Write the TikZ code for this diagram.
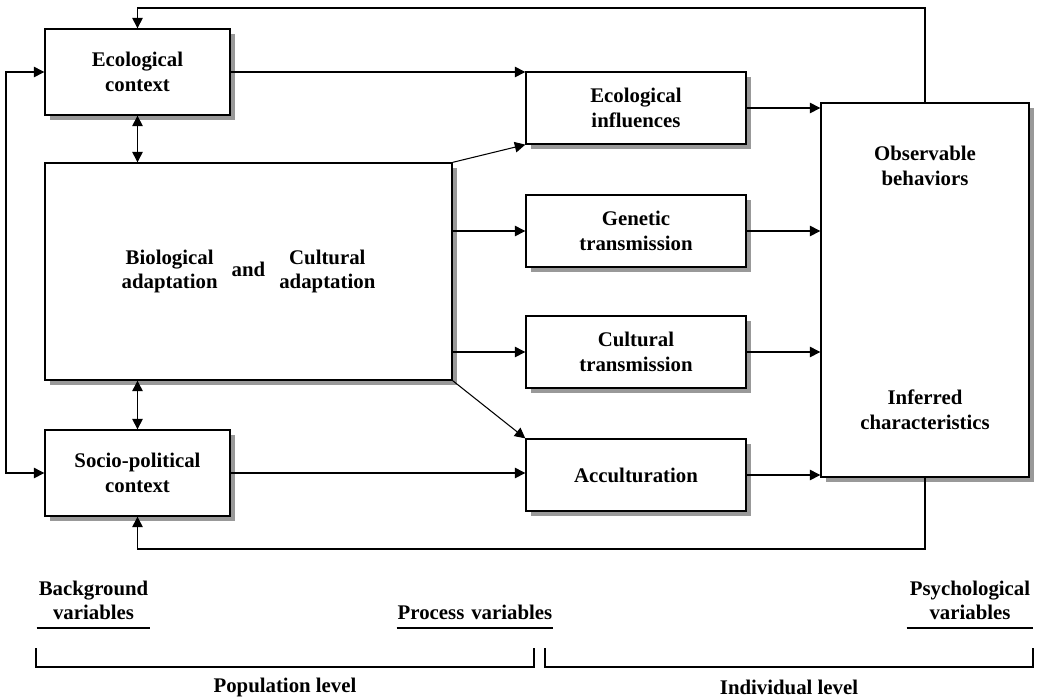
\documentclass[tikz,border=0pt]{standalone}
\usepackage{fontspec}
\setmainfont{Liberation Serif}
\usepackage{tikz}
\usetikzlibrary{positioning,shadows,arrows.meta}

\begin{document}
\begin{tikzpicture}[x=0.025cm, y=-0.025cm,
    every node/.style={font=\bfseries\fontsize{14.8}{17.5}\selectfont, align=center},
    box/.style={draw, line width=0.9pt, fill=white, inner sep=0pt,
      drop shadow={shadow xshift=0.13cm, shadow yshift=-0.13cm, fill=gray!80, opacity=1}},
    procbox/.style={box, minimum width=5.5cm, minimum height=1.8cm},
    ctxbox/.style={box, minimum width=4.625cm, minimum height=2.15cm},
    arr/.style={line width=0.75pt, -{Triangle[length=7.5pt,width=7.5pt]}},
    dblarr/.style={line width=0.75pt, {Triangle[length=7.5pt,width=7.5pt]}-{Triangle[length=7.5pt,width=7.5pt]}},
    plain/.style={line width=0.75pt},
    varlabel/.style={inner xsep=0pt, inner ysep=5.5pt}]
  \useasboundingbox (0,0) rectangle (1043,697);

  % background variables
  \node[ctxbox] (eco) at (137.5,72) {Ecological\\context};
  \node[box, minimum width=10.175cm, minimum height=5.425cm] (adapt) at (248.5,271.5)
    {\begin{tabular}{@{}c@{}}Biological\\adaptation\end{tabular}\hspace{10pt}and\hspace{10pt}%
     \begin{tabular}{@{}c@{}}Cultural\\adaptation\end{tabular}};
  \node[ctxbox] (socio) at (137.5,473) {Socio-political\\context};

  % process variables
  \node[procbox] (ecoinf) at (636,108) {Ecological\\influences};
  \node[procbox] (genetic) at (636,231) {Genetic\\transmission};
  \node[procbox] (cultural) at (636,352) {Cultural\\transmission};
  \node[procbox] (accult) at (636,475) {Acculturation};

  % psychological variables
  \node[box, minimum width=5.2cm, minimum height=9.35cm] (obs) at (925,290) {};
  \node (obstext) at (925,166) {Observable\\behaviors};
  \node (inftext) at (925,410) {Inferred\\characteristics};

  % connectors
  \coordinate (topy) at (530,8);
  \coordinate (boty) at (530,549);
  \coordinate (leftx) at (6,270);
  \draw[arr] (obs.north) |- (topy) -| (eco.north);
  \draw[arr] (obs.south) |- (boty) -| (socio.south);
  \draw[dblarr] (eco.west) -| (leftx) |- (socio.west);
  \draw[dblarr] (eco.south) -- (eco.south |- adapt.north);
  \draw[dblarr] (socio.north) -- (socio.north |- adapt.south);
  \draw[arr] (eco.east) -- (eco.east -| ecoinf.west);
  \draw[arr] (socio.east) -- (socio.east -| accult.west);
  \draw[arr] (adapt.north east) -- (ecoinf.south west);
  \draw[arr] (adapt.east |- genetic.west) -- (genetic.west);
  \draw[arr] (adapt.east |- cultural.west) -- (cultural.west);
  \draw[arr] (adapt.south east) -- (accult.north west);
  \foreach \n in {ecoinf,genetic,cultural,accult}
    \draw[arr] (\n.east) -- (\n.east -| obs.west);

  % bottom labels
  \node[varlabel, text width=2.825cm, anchor=south] (bgvar) at (93.5,628) {Background\\variables};
  \node[varlabel, text width=3.9cm, anchor=south] (procvar) at (475,628) {Process variables};
  \node[varlabel, text width=3.15cm, anchor=south] (psyvar) at (970,628) {Psychological\\variables};
  \foreach \n in {bgvar,procvar,psyvar}
    \draw[plain] (\n.south west) -- (\n.south east);

  \coordinate (popL) at (36,648);
  \coordinate (popR) at (534,648);
  \coordinate (indL) at (545,648);
  \coordinate (indR) at (1033,648);
  \draw[plain] (popL) -- ++(0,19) -| (popR);
  \draw[plain] (indL) -- ++(0,19) -| (indR);
  \node (poplevel) at (285,687) {Population level};
  \node (indlevel) at (789,687) {Individual level};
\end{tikzpicture}
\end{document}
